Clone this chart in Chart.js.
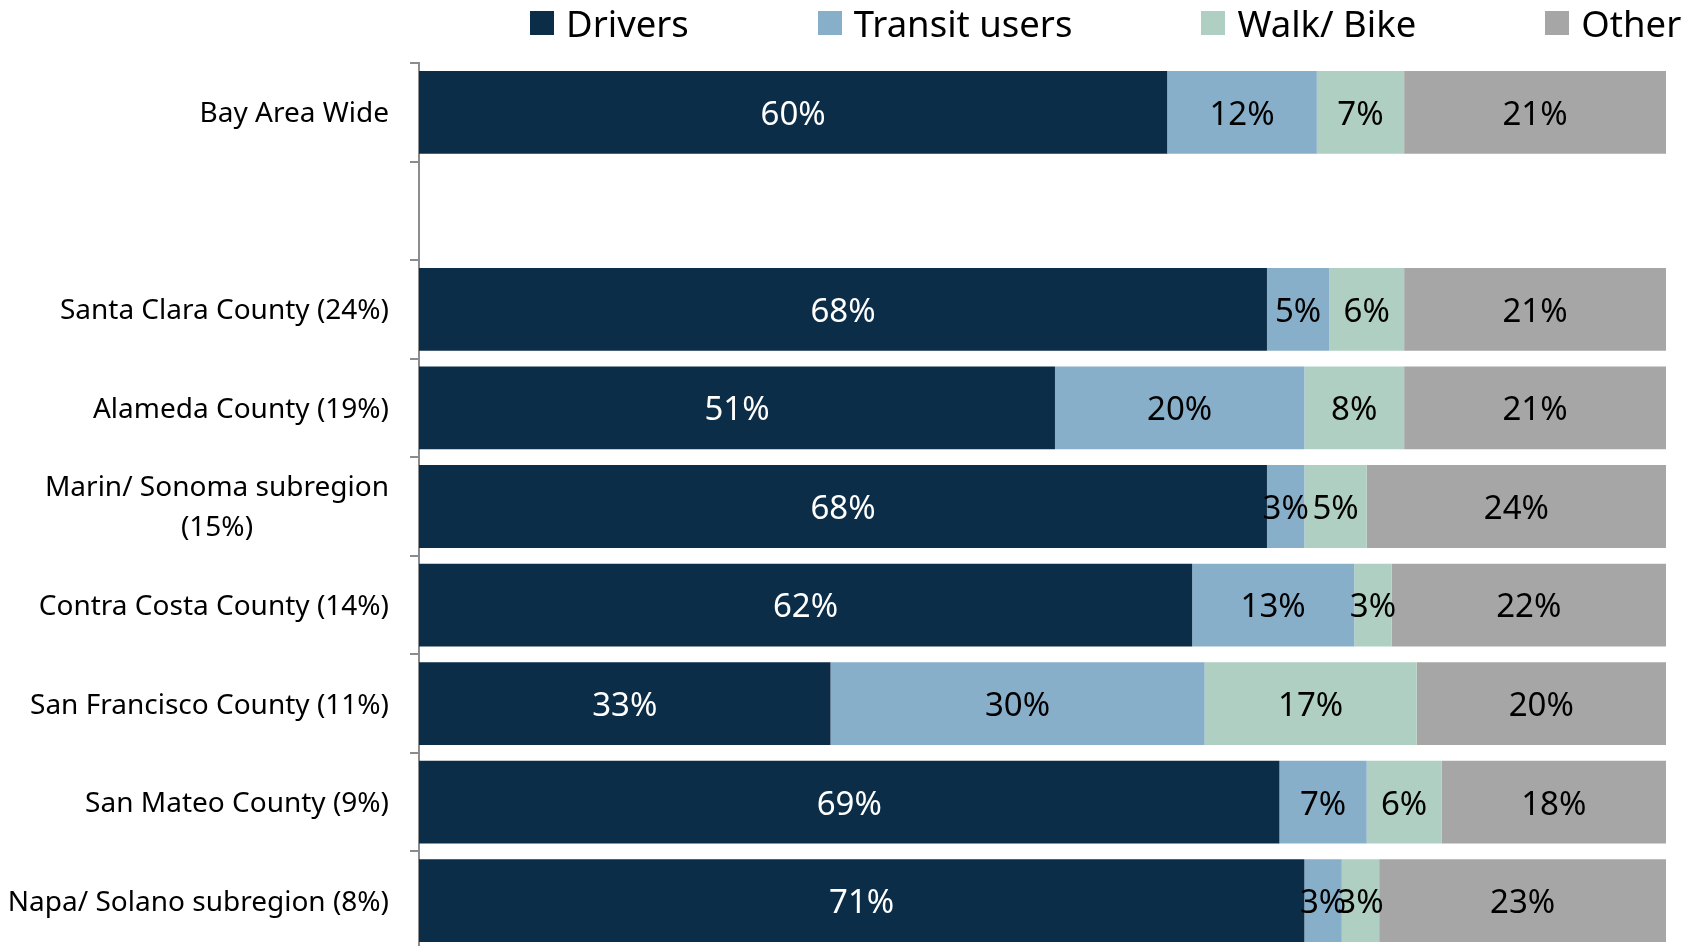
<!DOCTYPE html>
<html>
<head>
<meta charset="utf-8">
<script src="https://cdn.jsdelivr.net/npm/chart.js@4.4.1/dist/chart.umd.min.js"></script>
<style>
  html, body { margin: 0; padding: 0; background: #fff; overflow: hidden; }
  #wrap { position: relative; width: 1693px; height: 950px; }
  #legend {
    position: absolute; left: 530px; top: 0; height: 46px;
    display: flex; align-items: center; gap: 129px;
    font-family: 'Noto Sans', sans-serif; font-size: 36.5px; color: #000;
  }
  .item { display: flex; align-items: center; white-space: nowrap; }
  .box { width: 24px; height: 24px; margin-right: 12px; }
</style>
</head>
<body>
<div id="wrap">
  <canvas id="modeChart" width="1693" height="950"></canvas>
  <div id="legend"></div>
</div>
<script>
// Commute mode share by region
const categories = [
    'Bay Area Wide',
    '',
    'Santa Clara County (24%)',
    'Alameda County (19%)',
    ['Marin/ Sonoma subregion', '(15%)'],
    'Contra Costa County (14%)',
    'San Francisco County (11%)',
    'San Mateo County (9%)',
    'Napa/ Solano subregion (8%)'
];
const seriesNames = ['Drivers', 'Transit users', 'Walk/ Bike', 'Other'];
const drivers = [60, null, 68, 51, 68, 62, 33, 69, 71];
const transit = [12, null, 5, 20, 3, 13, 30, 7, 3];
const walkBike = [7, null, 6, 8, 5, 3, 17, 6, 3];
const other = [21, null, 21, 21, 24, 22, 20, 18, 23];

const colors = ['#0c2d48', '#88afc9', '#b0cfc3', '#a6a6a6'];
const labelColors = ['#ffffff', '#000000', '#000000', '#000000'];

const segmentLabels = {
    id: 'segmentLabels',
    afterDatasetsDraw(chart) {
        const ctx = chart.ctx;
        ctx.save();
        ctx.font = '33px "Noto Sans"';
        ctx.textAlign = 'center';
        ctx.textBaseline = 'middle';
        chart.data.datasets.forEach((ds, di) => {
            chart.getDatasetMeta(di).data.forEach((bar, i) => {
                const v = ds.data[i];
                if (v == null) return;
                ctx.fillStyle = labelColors[di];
                ctx.fillText(v + '%', (bar.x + bar.base) / 2, bar.y + 3);
            });
        });
        ctx.restore();
    }
};

// category labels: block right-aligned, wrapped lines centred like the original
const categoryLabels = {
    id: 'categoryLabels',
    afterDraw(chart) {
        const ctx = chart.ctx;
        const yScale = chart.scales.y;
        const right = chart.chartArea.left - 30;
        ctx.save();
        ctx.font = '28px "Noto Sans"';
        ctx.fillStyle = '#000';
        ctx.textAlign = 'center';
        ctx.textBaseline = 'middle';
        categories.forEach((label, i) => {
            const lines = [].concat(label);
            const w = Math.max(...lines.map(l => ctx.measureText(l).width));
            const cy = yScale.getPixelForValue(i) + 2;
            lines.forEach((line, k) => {
                ctx.fillText(line, right - w / 2, cy + (k - (lines.length - 1) / 2) * 40);
            });
        });
        ctx.restore();
    }
};

const chart = new Chart(document.getElementById('modeChart'), {
    type: 'bar',
    data: {
        labels: categories,
        datasets: [drivers, transit, walkBike, other].map((d, i) => ({
            label: seriesNames[i],
            data: d,
            backgroundColor: colors[i],
            borderWidth: 0,
            categoryPercentage: 0.84,
            barPercentage: 1
        }))
    },
    options: {
        indexAxis: 'y',
        responsive: false,
        animation: false,
        layout: { padding: { top: 63, right: 27, bottom: 0, left: 0 } },
        plugins: {
            legend: { display: false },
            tooltip: { enabled: false }
        },
        scales: {
            x: { stacked: true, min: 0, max: 100, display: false },
            y: {
                stacked: true,
                grid: {
                    drawOnChartArea: false,
                    drawTicks: true,
                    tickLength: 9,
                    color: '#8c8c8c',
                    lineWidth: 2,
                    offset: true
                },
                border: { display: true, color: '#8c8c8c', width: 2 },
                ticks: { display: false },
                afterFit(scale) { scale.width = 419; }
            }
        }
    },
    plugins: [segmentLabels, categoryLabels]
});

// html legend built from the datasets
const legendDiv = document.getElementById('legend');
chart.data.datasets.forEach(ds => {
    const item = document.createElement('div');
    item.className = 'item';
    item.innerHTML = `<span class="box" style="background:${ds.backgroundColor}"></span><span>${ds.label}</span>`;
    legendDiv.appendChild(item);
});
</script>
</body>
</html>
